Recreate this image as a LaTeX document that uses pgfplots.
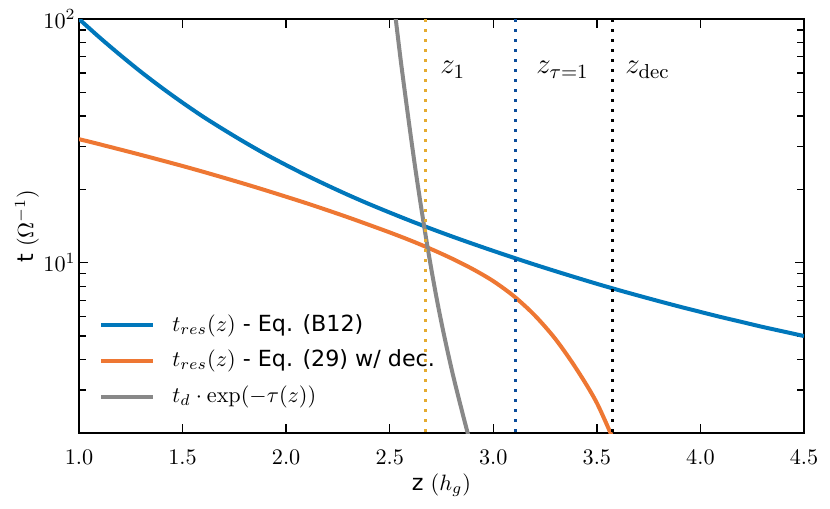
\RequirePackage{fix-cm}
\documentclass[border=0pt]{standalone}
\usepackage[no-math]{fontspec}
\setmainfont{DejaVu Sans}
\usepackage{pgfplots}
\pgfplotsset{compat=1.18}
\definecolor{cblue}{HTML}{0077BB}
\definecolor{corange}{HTML}{EE7733}
\definecolor{cgray}{HTML}{888888}
\definecolor{cgold}{HTML}{E5AB2F}
\definecolor{cdblue}{HTML}{0A4D9C}
\begin{document}
\begin{tikzpicture}
\useasboundingbox (-35.55pt,-33.75pt) rectangle (337.95pt,194.85pt);
\begin{axis}[
  at={(0,0)}, anchor=south west,
  width=326.25pt, height=186.3pt, scale only axis,
  xmin=1, xmax=4.5, ymin=2, ymax=100, ymode=log,
  xtick={1,1.5,2,2.5,3,3.5,4,4.5},
  x tick label style={/pgf/number format/.cd,fixed,fixed zerofill,precision=1,/tikz/.cd,yshift=-4pt},
  y tick label style={xshift=2pt},
  tick align=inside, tick pos=both,
  xticklabel pos=lower, yticklabel pos=left,
  major tick length=4.2pt, minor tick length=3pt,
  every tick/.append style={line width=0.6pt, black},
  axis line style={line width=0.6pt, black},
  xlabel={z $(h_g)$}, ylabel={t $(\Omega^{-1})$},
  x label style={at={(axis description cs:0.5,-0.1256)}, anchor=center},
  y label style={at={(axis description cs:-0.0717,0.5)}, anchor=center},
  legend cell align=left,
  legend image code/.code={\draw[#1,line cap=butt] (0pt,0pt) -- (23.4pt,0pt);},
  legend style={at={(0.0276,0.044)}, anchor=south west, draw=none, fill=none,
    inner sep=0pt, row sep=0pt,
    nodes={inner xsep=3pt, inner ysep=3pt, text height=7.5pt, text depth=2.5pt},
    /tikz/every odd column/.append style={column sep=4.65pt}},
]
\addplot[cblue, line width=1.8pt, smooth] coordinates {
(1.0,100) (1.1,83.9) (1.2,71.05) (1.3,60.6) (1.4,52.2) (1.5,45.35) (1.6,39.7) (1.7,35.1)
(1.8,31.2) (1.9,27.9) (2.0,25.15) (2.1,22.78) (2.2,20.74) (2.3,18.96) (2.4,17.41) (2.5,16.06)
(2.6,14.85) (2.7,13.78) (2.8,12.82) (2.9,11.96) (3.0,11.18) (3.1,10.47) (3.2,9.82) (3.3,9.23)
(3.4,8.69) (3.5,8.19) (3.6,7.74) (3.7,7.33) (3.8,6.95) (3.9,6.60) (4.0,6.28) (4.1,5.98)
(4.2,5.71) (4.3,5.45) (4.4,5.22) (4.5,5.00)};
\addlegendentry{$t_{res}(z)$ - Eq. (B12)}
\addplot[corange, line width=1.8pt, smooth] coordinates {
(1.0,32.14) (1.1,30.61) (1.2,29.12) (1.3,27.68) (1.4,26.28) (1.5,24.93) (1.6,23.60) (1.7,22.30)
(1.8,21.05) (1.9,19.83) (2.0,18.65) (2.1,17.52) (2.2,16.41) (2.3,15.34) (2.4,14.30) (2.5,13.31)
(2.6,12.34) (2.7,11.37) (2.8,10.40) (2.9,9.42) (3.0,8.40) (3.1,7.28) (3.2,6.08) (3.3,4.86)
(3.4,3.68) (3.5,2.656) (3.6,1.714)};
\addlegendentry{$t_{res}(z)$ - Eq. (29) w/ dec.}
\addplot[cgray, line width=1.8pt, smooth] coordinates {
(2.509,138.7) (2.529,100) (2.554,66.8) (2.579,45.97) (2.604,31.99) (2.629,22.65) (2.654,16.41)
(2.679,12.09) (2.704,9.09) (2.729,6.96) (2.754,5.45) (2.779,4.34) (2.804,3.50) (2.829,2.87)
(2.854,2.365) (2.879,1.961) (2.904,1.63)};
\addlegendentry{$t_d\cdot\exp(-\tau(z))$}
\addplot[cgold, line width=1.4pt, dash pattern=on 1.4pt off 3.1pt, forget plot] coordinates {(2.674,100) (2.674,2)};
\addplot[cdblue, line width=1.4pt, dash pattern=on 1.4pt off 3.1pt, forget plot] coordinates {(3.107,100) (3.107,2)};
\addplot[black, line width=1.4pt, dash pattern=on 1.4pt off 3.1pt, forget plot] coordinates {(3.575,100) (3.575,2)};
\node[anchor=base west, inner sep=0pt, font=\fontsize{13}{15}\selectfont] at (axis cs:2.743,59.5) {$z_1$};
\node[anchor=base west, inner sep=0pt, font=\fontsize{13}{15}\selectfont] at (axis cs:3.206,59.5) {$z_{\tau=1}$};
\node[anchor=base west, inner sep=0pt, font=\fontsize{13}{15}\selectfont] at (axis cs:3.636,59.5) {$z_{\mathrm{dec}}$};
\end{axis}
\end{tikzpicture}
\end{document}
